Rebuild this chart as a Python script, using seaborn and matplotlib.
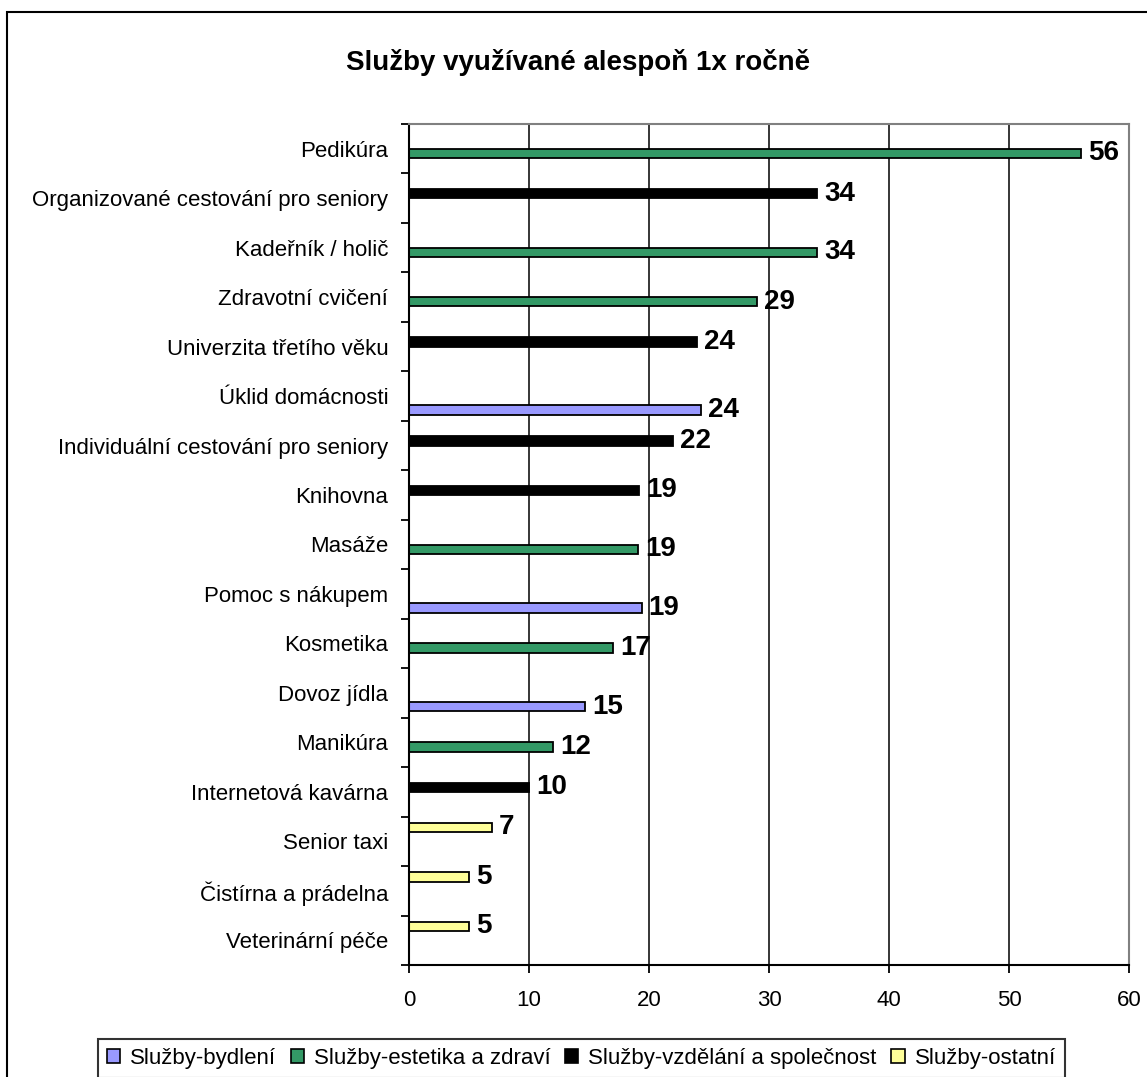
import matplotlib
matplotlib.use("Agg")
import matplotlib.pyplot as plt
from matplotlib.patches import Patch, Rectangle
import seaborn as sns
import pandas as pd
import numpy as np

# data
categories = [
    "Pedikúra", "Organizované cestování pro seniory", "Kadeřník / holič",
    "Zdravotní cvičení", "Univerzita třetího věku", "Úklid domácnosti",
    "Individuální cestování pro seniory", "Knihovna", "Masáže",
    "Pomoc s nákupem", "Kosmetika", "Dovoz jídla", "Manikúra",
    "Internetová kavárna", "Senior taxi", "Čistírna a prádelna",
    "Veterinární péče",
]
values = [56.0, 34.0, 34.0, 29.0, 24.0, 24.3, 22.0, 19.2, 19.1,
          19.4, 17.0, 14.7, 12.0, 10.0, 6.9, 5.0, 5.0]
BYD = "Služby-bydlení"
EST = "Služby-estetika a zdraví"
VZD = "Služby-vzdělání a společnost"
OST = "Služby-ostatní"
groups = [EST, VZD, EST, EST, VZD, BYD, VZD, VZD, EST,
          BYD, EST, BYD, EST, VZD, OST, OST, OST]
legend_order = [BYD, EST, VZD, OST]
colors = {BYD: "#9999FF", EST: "#339966", VZD: "#000000", OST: "#FFFF99"}

df = pd.DataFrame({"category": categories, "value": values, "group": groups})

sns.set_style("white")
plt.rcParams["font.family"] = ["Liberation Sans", "DejaVu Sans"]
plt.rcParams["text.color"] = "black"
plt.rcParams["xtick.color"] = "black"
plt.rcParams["ytick.color"] = "black"

W, H = 1147, 1077
fig = plt.figure(figsize=(W / 100, H / 100), dpi=100)
ax = fig.add_axes([409 / W, 1 - 965 / H, (1129 - 409) / W, (965 - 124) / H])

# Excel puts the first series at the bottom of each slot
draw_order = legend_order[::-1]
sns.barplot(data=df, x="value", y="category", hue="group", order=categories,
            hue_order=draw_order, palette=colors, width=0.75, orient="h",
            dodge=True, saturation=1, edgecolor="black", linewidth=1.3,
            errorbar=None, legend=False, ax=ax)

for cont in ax.containers:
    ax.bar_label(cont, fmt="%.0f", padding=5, fontsize=20, fontweight="bold",
                 color="black")

ax.set_xlim(0, 60)
ax.set_ylim(len(categories) - 0.5, -0.5)
ax.set_xticks(range(0, 61, 10))
ax.set_xlabel("")
ax.set_ylabel("")
ax.xaxis.grid(True, color="black", linewidth=1.1)
ax.yaxis.grid(False)
ax.set_axisbelow(True)

ax.set_yticks(np.arange(-0.5, len(categories), 1), minor=True)
ax.tick_params(axis="y", which="major", length=0, pad=15, labelsize=16)
ax.tick_params(axis="y", which="minor", length=6, width=1.3, direction="out", left=True)
ax.tick_params(axis="x", which="major", length=6, width=1.3, direction="out",
               bottom=True, pad=12, labelsize=16)

for side in ["left", "bottom"]:
    ax.spines[side].set_color("black")
    ax.spines[side].set_linewidth(1.5)
for side in ["top", "right"]:
    ax.spines[side].set_color("#808080")
    ax.spines[side].set_linewidth(1.5)

fig.text(578 / W, 1 - 62 / H, "Služby využívané alespoň 1x ročně",
         ha="center", va="center", fontsize=20, fontweight="bold")

handles = [Patch(facecolor=colors[g], edgecolor="black", linewidth=1.2) for g in legend_order]
leg = fig.legend(handles, legend_order, loc="upper left",
                 bbox_to_anchor=(98 / W, 1 - 1039 / H), ncol=4, fontsize=16,
                 frameon=True, fancybox=False, edgecolor="black",
                 handlelength=0.6, handleheight=0.6, handletextpad=0.45,
                 columnspacing=0.65, borderpad=0.4, borderaxespad=0)
leg.get_frame().set_linewidth(1.5)

# chart area border (right and bottom edges run off the picture)
fig.patches.append(Rectangle((7 / W, -0.1), 1.2, 1 - 12 / H + 0.1,
                             transform=fig.transFigure, fill=False,
                             edgecolor="black", linewidth=1.5))

fig.savefig("out.png", dpi=100)
